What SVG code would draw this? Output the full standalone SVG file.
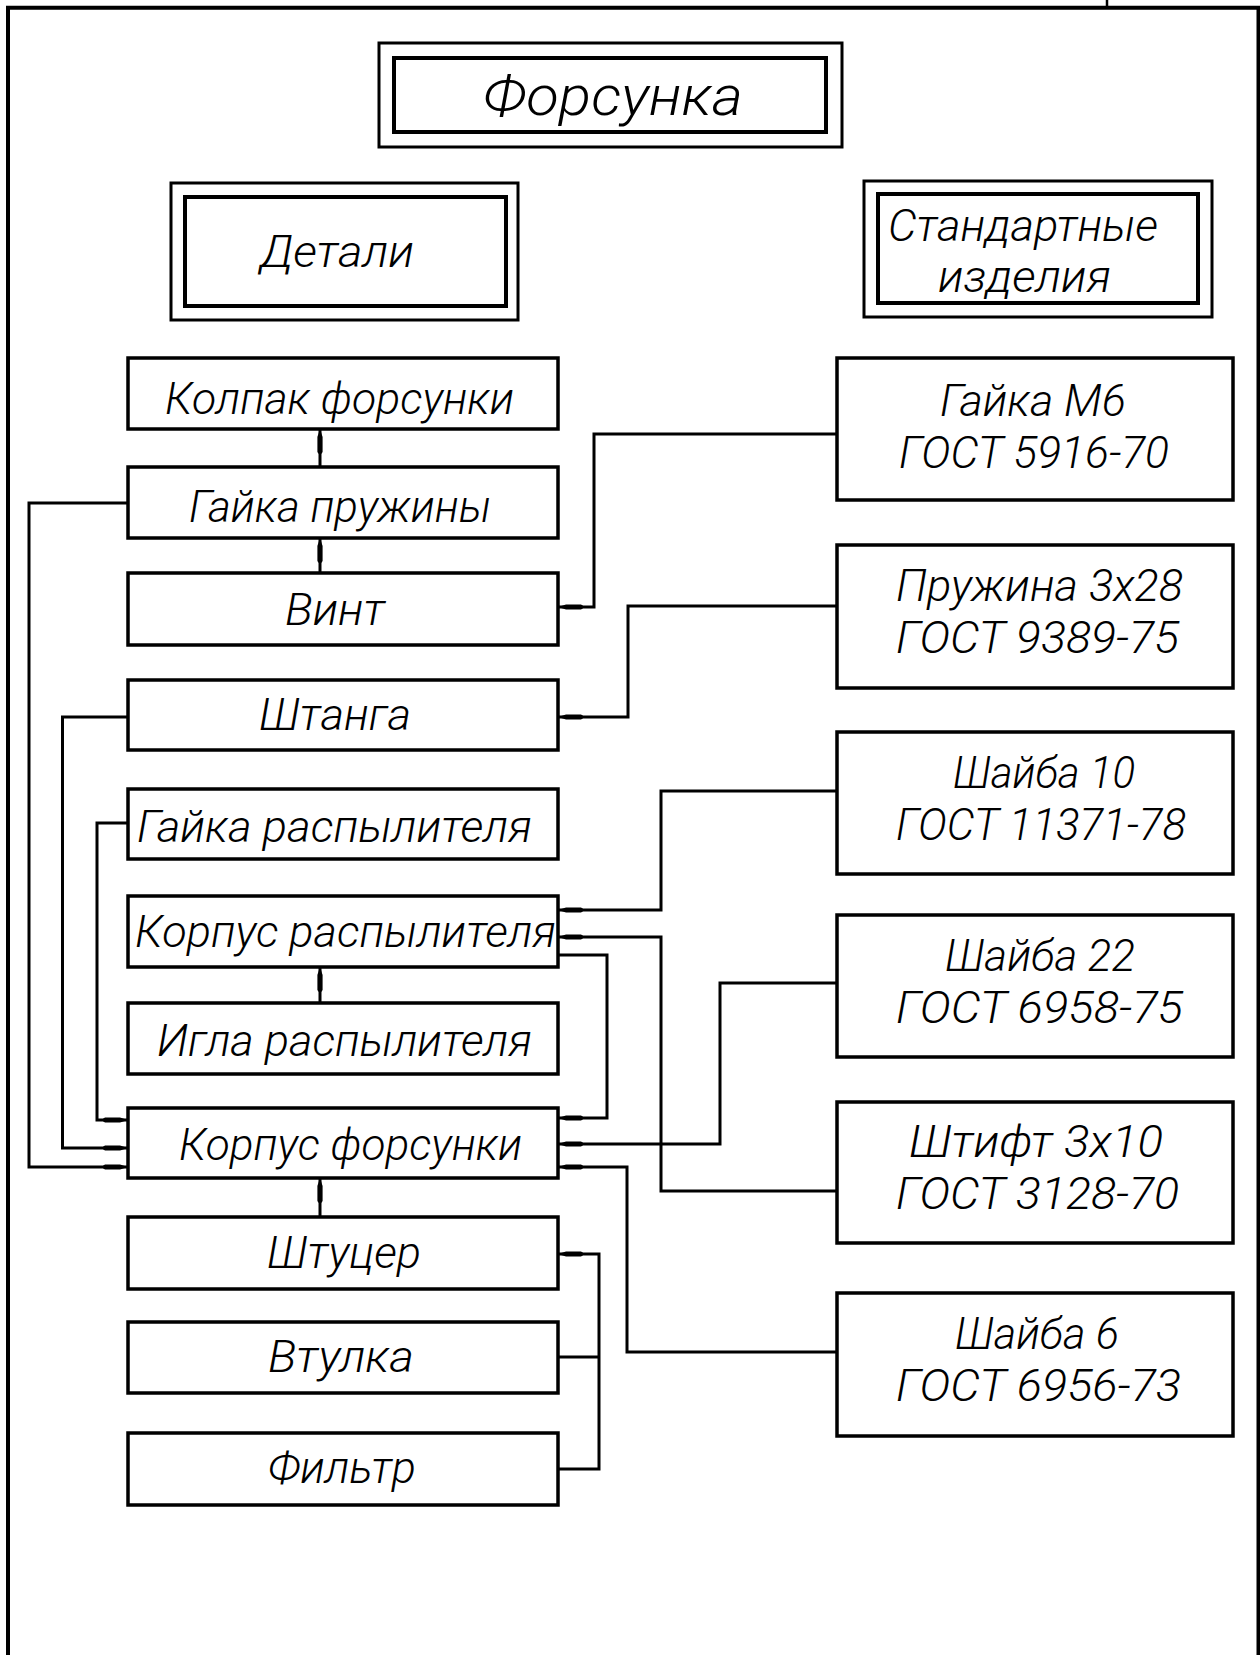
<svg xmlns="http://www.w3.org/2000/svg" width="1260" height="1655" viewBox="0 0 1260 1655">
<style>
  .bx{fill:none;stroke:#000;stroke-width:3.5;stroke-linejoin:miter}
  .bo{fill:none;stroke:#000;stroke-width:3}
  .bi{fill:none;stroke:#000;stroke-width:4}
  .cn{fill:none;stroke:#000;stroke-width:3;stroke-linejoin:miter}
  .ar{fill:none;stroke:#000;stroke-width:3;marker-end:url(#ah)}
  text{font-family:Roboto,"Liberation Sans",Arial,sans-serif;font-weight:300;font-style:italic;fill:#000}
  .l{font-size:44px}
  .r{font-size:44px}
  .h{font-size:44px}
</style>
<defs>
  <marker id="ah" viewBox="-27 -4 28 8" refX="0" refY="0" markerWidth="28" markerHeight="8" markerUnits="userSpaceOnUse" orient="auto">
    <path d="M0,0 L-8,-2.6 L-23,-2.6 L-25,-1.2 L-25,1.2 L-23,2.6 L-8,2.6 Z" fill="#000"/>
  </marker>
</defs>
<rect width="1260" height="1655" fill="#fff"/>
<g id="frame">
  <path d="M8,1655 L8,7.7 L1258.5,7.7 L1258.5,1655" fill="none" stroke="#000" stroke-width="4"/>
  <line x1="1107" y1="0" x2="1107" y2="8" stroke="#000" stroke-width="2.5"/>
</g>
<g id="title">
  <rect class="bo" x="379" y="43" width="463" height="104"/>
  <rect class="bi" x="394" y="58" width="432" height="74"/>
  <text x="483" y="115" font-size="56" textLength="260" lengthAdjust="spacingAndGlyphs">Форсунка</text>
</g>
<g id="details-header">
  <rect class="bo" x="171" y="183" width="347" height="137"/>
  <rect class="bi" x="185" y="197" width="321" height="109"/>
  <text class="h" x="260" y="267" textLength="154" lengthAdjust="spacingAndGlyphs">Детали</text>
</g>
<g id="standard-header">
  <rect class="bo" x="864" y="181" width="348" height="136"/>
  <rect class="bi" x="878" y="194" width="320" height="109"/>
  <text class="h" x="888" y="241" textLength="270" lengthAdjust="spacingAndGlyphs">Стандартные</text>
  <text class="h" x="938" y="292" textLength="173" lengthAdjust="spacingAndGlyphs">изделия</text>
</g>
<g id="connectors">
  <line class="ar" x1="320" y1="467" x2="320" y2="429"/>
  <line class="ar" x1="320" y1="573" x2="320" y2="538"/>
  <line class="ar" x1="320" y1="1003" x2="320" y2="967"/>
  <line class="ar" x1="320" y1="1217" x2="320" y2="1178"/>
  <polyline class="ar" points="128,503 29,503 29,1167 128,1167"/>
  <polyline class="ar" points="128,717 62.5,717 62.5,1148 128,1148"/>
  <polyline class="ar" points="128,823 97,823 97,1120 128,1120"/>
  <polyline class="ar" points="837,434 594,434 594,607 558,607"/>
  <polyline class="ar" points="837,606 628,606 628,717 558,717"/>
  <polyline class="ar" points="837,791 661,791 661,910 558,910"/>
  <polyline class="ar" points="837,1191 661,1191 661,937 558,937"/>
  <polyline class="ar" points="558,955 607,955 607,1118 558,1118"/>
  <polyline class="ar" points="837,983 720,983 720,1144 558,1144"/>
  <polyline class="ar" points="837,1352 627,1352 627,1167 558,1167"/>
  <polyline class="cn" points="558,1469 599,1469 599,1357"/>
  <line class="cn" x1="558" y1="1357" x2="599" y2="1357"/>
  <polyline class="ar" points="599,1357 599,1254 558,1254"/>
</g>
<g id="kolpak">
  <rect class="bx" x="128" y="358" width="430" height="71"/>
  <text class="l" x="165" y="414" textLength="349" lengthAdjust="spacingAndGlyphs">Колпак форсунки</text>
</g>
<g id="gaika-pruzhiny">
  <rect class="bx" x="128" y="467" width="430" height="71"/>
  <text class="l" x="189" y="522" textLength="302" lengthAdjust="spacingAndGlyphs">Гайка пружины</text>
</g>
<g id="vint">
  <rect class="bx" x="128" y="573" width="430" height="72"/>
  <text class="l" x="285" y="625" textLength="100" lengthAdjust="spacingAndGlyphs">Винт</text>
</g>
<g id="shtanga">
  <rect class="bx" x="128" y="680" width="430" height="70"/>
  <text class="l" x="259" y="730" textLength="152" lengthAdjust="spacingAndGlyphs">Штанга</text>
</g>
<g id="gaika-raspylitelya">
  <rect class="bx" x="128" y="789" width="430" height="70"/>
  <text class="l" x="137" y="842" textLength="395" lengthAdjust="spacingAndGlyphs">Гайка распылителя</text>
</g>
<g id="korpus-raspylitelya">
  <rect class="bx" x="128" y="896" width="430" height="71"/>
  <text class="l" x="135" y="947" textLength="421" lengthAdjust="spacingAndGlyphs">Корпус распылителя</text>
</g>
<g id="igla">
  <rect class="bx" x="128" y="1003" width="430" height="71"/>
  <text class="l" x="157" y="1056" textLength="375" lengthAdjust="spacingAndGlyphs">Игла распылителя</text>
</g>
<g id="korpus-forsunki">
  <rect class="bx" x="128" y="1108" width="430" height="70"/>
  <text class="l" x="179" y="1160" textLength="343" lengthAdjust="spacingAndGlyphs">Корпус форсунки</text>
</g>
<g id="shtucer">
  <rect class="bx" x="128" y="1217" width="430" height="72"/>
  <text class="l" x="267" y="1268" textLength="154" lengthAdjust="spacingAndGlyphs">Штуцер</text>
</g>
<g id="vtulka">
  <rect class="bx" x="128" y="1322" width="430" height="71"/>
  <text class="l" x="268" y="1372" textLength="146" lengthAdjust="spacingAndGlyphs">Втулка</text>
</g>
<g id="filtr">
  <rect class="bx" x="128" y="1433" width="430" height="72"/>
  <text class="l" x="268" y="1483" textLength="148" lengthAdjust="spacingAndGlyphs">Фильтр</text>
</g>
<g id="gaika-m6">
  <rect class="bx" x="837" y="358" width="396" height="142"/>
  <text class="r" x="940" y="416" textLength="186" lengthAdjust="spacingAndGlyphs">Гайка М6</text>
  <text class="r" x="899" y="468" textLength="270" lengthAdjust="spacingAndGlyphs">ГОСТ 5916-70</text>
</g>
<g id="pruzhina">
  <rect class="bx" x="837" y="545" width="396" height="143"/>
  <text class="r" x="896" y="601" textLength="287" lengthAdjust="spacingAndGlyphs">Пружина 3х28</text>
  <text class="r" x="896" y="653" textLength="283" lengthAdjust="spacingAndGlyphs">ГОСТ 9389-75</text>
</g>
<g id="shaiba-10">
  <rect class="bx" x="837" y="732" width="396" height="142"/>
  <text class="r" x="953" y="788" textLength="182" lengthAdjust="spacingAndGlyphs">Шайба 10</text>
  <text class="r" x="896" y="840" textLength="290" lengthAdjust="spacingAndGlyphs">ГОСТ 11371-78</text>
</g>
<g id="shaiba-22">
  <rect class="bx" x="837" y="915" width="396" height="142"/>
  <text class="r" x="945" y="971" textLength="190" lengthAdjust="spacingAndGlyphs">Шайба 22</text>
  <text class="r" x="896" y="1023" textLength="287" lengthAdjust="spacingAndGlyphs">ГОСТ 6958-75</text>
</g>
<g id="shtift">
  <rect class="bx" x="837" y="1102" width="396" height="141"/>
  <text class="r" x="909" y="1157" textLength="254" lengthAdjust="spacingAndGlyphs">Штифт 3х10</text>
  <text class="r" x="896" y="1209" textLength="283" lengthAdjust="spacingAndGlyphs">ГОСТ 3128-70</text>
</g>
<g id="shaiba-6">
  <rect class="bx" x="837" y="1293" width="396" height="143"/>
  <text class="r" x="955" y="1349" textLength="164" lengthAdjust="spacingAndGlyphs">Шайба 6</text>
  <text class="r" x="896" y="1401" textLength="285" lengthAdjust="spacingAndGlyphs">ГОСТ 6956-73</text>
</g>
</svg>
